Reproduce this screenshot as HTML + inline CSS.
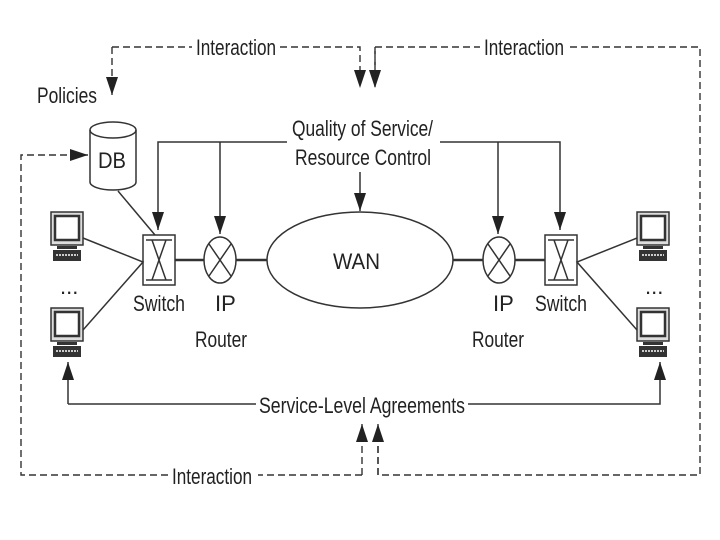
<!DOCTYPE html>
<html><head><style>body{margin:0;background:#fff}svg{display:block}text{font-family:"Liberation Sans",sans-serif;font-size:22px;fill:#222}</style></head><body>
<svg width="720" height="540" viewBox="0 0 720 540" xmlns="http://www.w3.org/2000/svg">
<defs>
<marker id="a" markerWidth="20" markerHeight="14" refX="18" refY="6" orient="auto" markerUnits="userSpaceOnUse"><path d="M0,0 L18,6 L0,12 z" fill="#222"/></marker>
<g id="pc">
<rect x="0" y="0" width="32" height="33" fill="#ddd" stroke="#333" stroke-width="1.5"/>
<rect x="4" y="4" width="24" height="24" fill="#fff" stroke="#333" stroke-width="2.5"/>
<rect x="6" y="34" width="20" height="3" fill="#333"/>
<rect x="2" y="38" width="28" height="11" fill="#333"/>
<line x1="5" y1="43" x2="27" y2="43" stroke="#ccc" stroke-width="2" stroke-dasharray="2,1"/>
</g>
</defs>
<g fill="none" stroke="#333" stroke-width="1.4" stroke-dasharray="7,4">
<path d="M112,47 H192 M280,47 H360 V88" marker-end="url(#a)"/>
<path d="M112,47 V95" marker-end="url(#a)"/>
<path d="M375,80 V47 H480 M570,47 H700 V475 H378 V434"/>
<path d="M375,47 V88" marker-end="url(#a)"/>
<path d="M378,475 V424" marker-end="url(#a)"/>
<path d="M362,475 V424" marker-end="url(#a)"/>
<path d="M362,475 H258 M168,475 H21 V155 H88" marker-end="url(#a)"/>
</g>
<g fill="none" stroke="#333" stroke-width="1.5">
<path d="M287,142 H158 V230" marker-end="url(#a)"/>
<path d="M220,142 V234" marker-end="url(#a)"/>
<path d="M440,142 H560 V230" marker-end="url(#a)"/>
<path d="M498,142 V234" marker-end="url(#a)"/>
<path d="M360,172 V211" marker-end="url(#a)"/>
<path d="M68,404 H256 M468,404 H660 V362" marker-end="url(#a)"/>
<path d="M68,404 V362" marker-end="url(#a)"/>
<ellipse cx="360" cy="260" rx="93" ry="48"/>
<path d="M90,130 V182 A23,8 0 0 0 136,182 V130"/>
<ellipse cx="113" cy="130" rx="23" ry="8"/>
<line x1="118" y1="191" x2="155" y2="235"/>
<line x1="175" y1="260" x2="204" y2="260" stroke-width="2.5"/>
<line x1="236" y1="260" x2="267" y2="260" stroke-width="2.5"/>
<line x1="453" y1="260" x2="483" y2="260" stroke-width="2.5"/>
<line x1="515" y1="260" x2="545" y2="260" stroke-width="2.5"/>
<ellipse cx="220" cy="260" rx="16" ry="23"/>
<path d="M209,244 L231,276 M231,244 L209,276"/>
<ellipse cx="499" cy="260" rx="16" ry="23"/>
<path d="M488,244 L510,276 M510,244 L488,276"/>
<rect x="143" y="235" width="32" height="50"/>
<path d="M146,240 H172 M146,280 H172 M152,240 L166,280 M166,240 L152,280"/>
<rect x="545" y="235" width="32" height="50"/>
<path d="M548,240 H574 M548,280 H574 M554,240 L568,280 M568,240 L554,280"/>
<path d="M83,238 L143,262 L83,330"/>
<path d="M637,238 L577,262 L637,330"/>
</g>
<use href="#pc" x="51" y="212"/>
<use href="#pc" x="51" y="308"/>
<use href="#pc" x="637" y="212"/>
<use href="#pc" x="637" y="308"/>
<text x="60" y="294" font-size="14">...</text>
<text x="645" y="294" font-size="14">...</text>
<text x="196" y="55" textLength="80" lengthAdjust="spacingAndGlyphs">Interaction</text>
<text x="484" y="55" textLength="80" lengthAdjust="spacingAndGlyphs">Interaction</text>
<text x="172" y="484" textLength="80" lengthAdjust="spacingAndGlyphs">Interaction</text>
<text x="37" y="103" textLength="60" lengthAdjust="spacingAndGlyphs">Policies</text>
<text x="98" y="168" textLength="28" lengthAdjust="spacingAndGlyphs">DB</text>
<text x="292" y="136" textLength="141" lengthAdjust="spacingAndGlyphs">Quality of Service/</text>
<text x="295" y="165" textLength="136" lengthAdjust="spacingAndGlyphs">Resource Control</text>
<text x="333" y="269" textLength="47" lengthAdjust="spacingAndGlyphs">WAN</text>
<text x="133" y="311" textLength="52" lengthAdjust="spacingAndGlyphs">Switch</text>
<text x="535" y="311" textLength="52" lengthAdjust="spacingAndGlyphs">Switch</text>
<text x="215" y="311">IP</text>
<text x="493" y="311">IP</text>
<text x="195" y="347" textLength="52" lengthAdjust="spacingAndGlyphs">Router</text>
<text x="472" y="347" textLength="52" lengthAdjust="spacingAndGlyphs">Router</text>
<text x="259" y="413" textLength="206" lengthAdjust="spacingAndGlyphs">Service-Level Agreements</text>
</svg>
</body></html>
